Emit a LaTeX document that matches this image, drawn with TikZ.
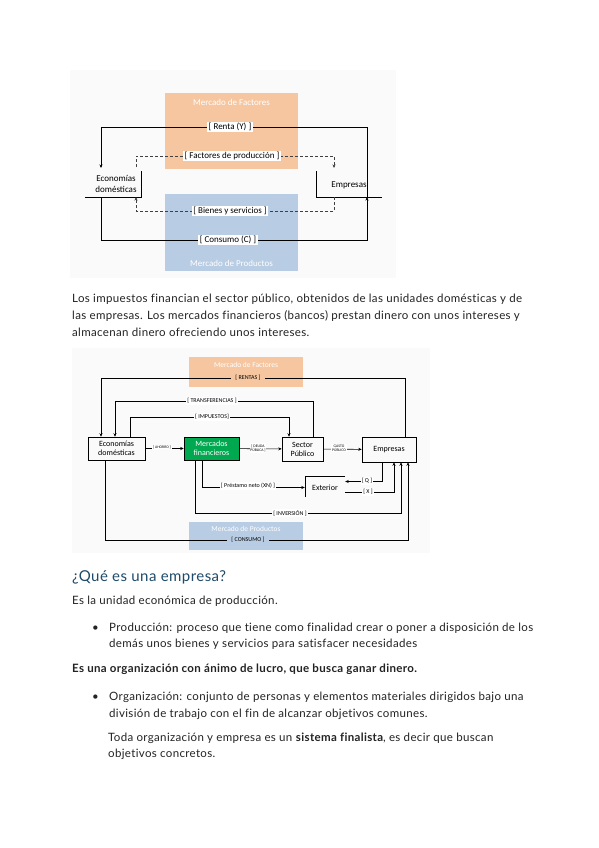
\documentclass[tikz,border=0pt]{standalone}
\usepackage{fontspec}
\setmainfont{Lato}[LetterSpace=3.0, Ligatures=NoCommon]
\newfontfamily\diagfont{Carlito}
\usetikzlibrary{arrows.meta,positioning}
\definecolor{factores}{RGB}{245,198,160}
\definecolor{productos}{RGB}{184,204,228}
\definecolor{financ}{RGB}{0,168,80}
\definecolor{titulo}{RGB}{30,75,105}
\definecolor{texto}{RGB}{35,35,35}
\tikzset{
  linea/.style={anchor=base west, inner sep=0pt, text=texto, font=\fontsize{11.5}{13}\selectfont},
  bloque/.style={inner sep=0pt, draw=none},
  mercado/.style={text=white, inner sep=0pt, font=\diagfont\fontsize{9}{10}\selectfont},
  mercadob/.style={text=white, inner sep=0pt, font=\diagfont\fontsize{7.5}{9}\selectfont},
  agente/.style={align=center, inner sep=0pt, font=\diagfont\fontsize{9}{11}\selectfont},
  caja/.style={draw, line width=0.5pt, align=center, inner sep=0pt, font=\diagfont\fontsize{8}{9}\selectfont},
  etq/.style={fill=white, inner sep=1.5pt, font=\diagfont\fontsize{9}{10}\selectfont},
  etqb/.style={fill=white, inner sep=1.2pt, font=\diagfont\fontsize{6}{7}\selectfont},
  etqc/.style={fill=white, inner sep=0.8pt, align=center, font=\diagfont\fontsize{3.8}{4.2}\selectfont},
  soporte/.style={line width=0.5pt},
  flujo/.style={line width=0.6pt, -{Stealth[length=3.5pt,width=3pt]}},
  flujod/.style={flujo, dash pattern=on 3pt off 2pt, draw=black!75},
}
\begin{document}
\begin{tikzpicture}[x=1pt,y=-1pt]
\useasboundingbox[fill=white] (0,0) rectangle (599,848);

% primer esquema: flujo circular
\fill[black!2] (70,70) rectangle (396,278);
\node[bloque, fill=factores, minimum width=133pt, minimum height=76pt] (factores) at (231.5,131) {};
\node[mercado] (factoresT) at (231.5,102) {Mercado de Factores};
\node[bloque, fill=productos, minimum width=133pt, minimum height=77pt] (productos) at (231.5,232.5) {};
\node[mercado] (productosT) at (231.5,263) {Mercado de Productos};
\node[agente] (eco) at (116,184) {Economías\\domésticas};
\node[agente] (emp) at (349,185) {Empresas};
\draw[soporte] (85,197) -| (141,171);
\draw[soporte] (316,171) |- (382,197);
\coordinate (ecoA) at (101,168);
\coordinate (ecoB) at (101,197);
\coordinate (ecoC) at (136,167);
\coordinate (ecoD) at (136,197);
\coordinate (empA) at (367,197);
\coordinate (empB) at (334,168);
\coordinate (empC) at (334,197);
\draw[flujo] (empA) |- (101,127) -- (ecoA);
\draw[flujod] (ecoC) |- (334,156) -- (empB);
\draw[flujod] (empC) |- (136,211) -- (ecoD);
\draw[flujo] (ecoB) |- (367,240) -- (empA);
\node[etq] (renta) at (230,127) {[ Renta (Y) ]};
\node[etq] (fprod) at (232,156) {[ Factores de producción ]};
\node[etq] (bienes) at (230,211) {[ Bienes y servicios ]};
\node[etq] (consumo) at (228,240) {[ Consumo (C) ]};

% texto
\node[linea] (p1) at (72,302) {Los impuestos financian el sector público, obtenidos de las unidades domésticas y de};
\node[linea] (p2) at (72,319) {las empresas. Los mercados financieros (bancos) prestan dinero con unos intereses y};
\node[linea] (p3) at (72,336) {almacenan dinero ofreciendo unos intereses.};

% segundo esquema: con sector público y exterior
\fill[black!2] (72,348) rectangle (430,553);
\node[bloque, fill=factores, minimum width=114pt, minimum height=30pt] (factores2) at (246,372) {};
\node[mercadob] (factores2T) at (246,365) {Mercado de Factores};
\node[bloque, fill=productos, minimum width=114pt, minimum height=28pt] (productos2) at (246,536) {};
\node[mercadob] (productos2T) at (246,529) {Mercado de Productos};
\node[caja, minimum width=57pt, minimum height=23pt] (eco2) at (116.5,448.5) {Economías\\domésticas};
\node[caja, fill=financ, text=white, minimum width=55pt, minimum height=23pt] (mf) at (211.5,448.5) {Mercados\\financieros};
\node[caja, minimum width=41pt, minimum height=24pt] (sp) at (302.5,449) {Sector\\Público};
\node[caja, minimum width=54pt, minimum height=25pt] (emp2) at (389,449.5) {Empresas};
\node[agente, font=\diagfont\fontsize{8}{9}\selectfont, minimum width=40pt] (ext) at (325,487.5) {Exterior};
\draw[soporte] (345,476) -| (305,497);

\draw[flujo] (405,0 |- emp2.north) |- (101,378) -- (101,0 |- eco2.north);
\draw[flujo] (313,0 |- sp.north) |- (115,401) -- (115,0 |- eco2.north);
\draw[flujo] (130,0 |- eco2.north) |- (289,417) -- (289,0 |- sp.north);
\draw[flujo] (eco2) -- (mf);
\draw[flujo] (mf) -- (sp);
\draw[flujo] (sp) -- (emp2);
\draw[flujo] (202,0 |- mf.south) |- (ext.west);
\draw[flujo] (382,0 |- emp2.south) |- ([yshift=6pt]ext.east);
\draw[flujo] ([yshift=-5pt]ext.east) -| (394,0 |- emp2.south);
\draw[flujo] (195,0 |- mf.south) |- (401,513) -- (401,0 |- emp2.south);
\draw[flujo] (105,0 |- eco2.south) |- (408,540) -- (408,0 |- emp2.south);

\node[etqb, fill=factores, inner xsep=4pt] (rentas) at (248,378) {[ RENTAS ]};
\node[etqb] (transf) at (212,401) {[ TRANSFERENCIAS ]};
\node[etqb] (impuestos) at (212,417) {[ IMPUESTOS]};
\node[etqc] (ahorro) at (162,447) {[ AHORRO ]};
\node[etqc] (deuda) at (258,448) {[ DEUDA\\PÚBLICA ]};
\node[etqc] (gasto) at (339,448) {GASTO\\PÚBLICO};
\node[etqb] (prestamo) at (248,486) {[ Préstamo neto (XN) ]};
\node[etqb] (q) at (367,481) {[ Q ]};
\node[etqb] (x) at (368,492) {[ X ]};
\node[etqb] (inversion) at (290,513) {[ INVERSIÓN ]};
\node[etqb, fill=productos, inner xsep=4pt] (consumo2) at (248,540) {[ CONSUMO ]};

% ¿Qué es una empresa?
\node[linea, text=titulo, font=\fontsize{15}{18}\selectfont] (h1) at (72,581) {¿Qué es una empresa?};
\node[linea] (t1) at (72,604) {Es la unidad económica de producción.};
\node[linea] (b1) at (92,631) {\textbullet};
\node[linea] (t2) at (109,631) {Producción: proceso que tiene como finalidad crear o poner a disposición de los};
\node[linea] (t3) at (109,647) {demás unos bienes y servicios para satisfacer necesidades};
\node[linea, font=\fontsize{11.5}{13}\bfseries] (t4) at (72,672) {Es una organización con ánimo de lucro, que busca ganar dinero.};
\node[linea] (b2) at (92,700) {\textbullet};
\node[linea] (t5) at (109,700) {Organización: conjunto de personas y elementos materiales dirigidos bajo una};
\node[linea] (t6) at (109,717) {división de trabajo con el fin de alcanzar objetivos comunes.};
\node[linea] (t7) at (108,741) {Toda organización y empresa es un \textbf{sistema finalista}, es decir que buscan};
\node[linea] (t8) at (108,757) {objetivos concretos.};
\end{tikzpicture}
\end{document}
